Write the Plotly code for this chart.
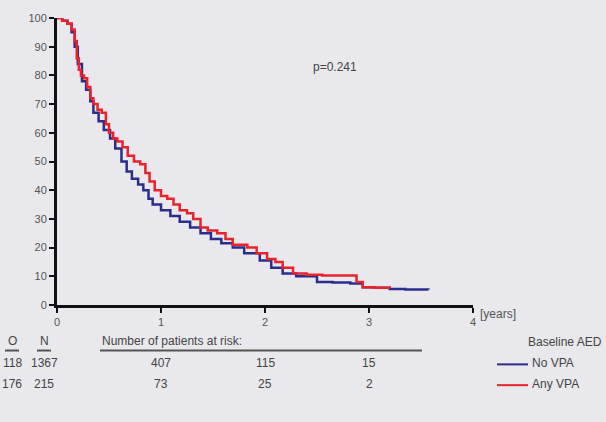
import plotly.graph_objects as go

# Kaplan-Meier style curves (percent, step after)
no_vpa_t = [0, 0.05, 0.10, 0.14, 0.17, 0.20, 0.24, 0.28, 0.32, 0.35, 0.40, 0.45, 0.51, 0.56,
            0.62, 0.67, 0.72, 0.78, 0.83, 0.88, 0.92, 1.00, 1.09, 1.18, 1.28, 1.38, 1.48,
            1.58, 1.69, 1.80, 1.95, 2.06, 2.17, 2.30, 2.50, 2.65, 2.82, 2.94, 3.05, 3.20,
            3.35, 3.57]
no_vpa_s = [100, 99, 98, 95, 90, 84, 78, 75, 71, 67, 64, 61, 58, 54.5, 50, 46.5, 44, 42,
            40, 37, 35, 33, 31, 29, 27, 25, 23, 21.5, 20, 18, 15.5, 13, 11, 10, 8, 7.8,
            7.5, 6.2, 6, 5.6, 5.4, 5.3]

any_vpa_t = [0, 0.05, 0.10, 0.14, 0.17, 0.19, 0.21, 0.23, 0.26, 0.29, 0.32, 0.35, 0.39,
             0.43, 0.47, 0.50, 0.54, 0.58, 0.63, 0.68, 0.74, 0.80, 0.85, 0.89, 0.94, 1.00,
             1.06, 1.12, 1.18, 1.25, 1.31, 1.38, 1.45, 1.54, 1.62, 1.69, 1.76, 1.83, 1.92,
             2.02, 2.10, 2.17, 2.27, 2.40, 2.55, 2.70, 2.82, 2.88, 2.94, 3.05, 3.20]
any_vpa_s = [100, 99, 98, 96, 92, 86, 82, 80, 79, 76, 72, 70, 68, 67, 63, 60, 58, 57, 55,
             52, 50, 49, 46, 43, 40, 38, 37, 35, 33, 32, 30, 27, 26, 25, 23, 21, 21, 20,
             18, 16, 15, 13, 11, 10.5, 10.3, 10.3, 10.3, 8, 6.2, 6, 5.8]

x_ticks = [0, 1, 2, 3, 4]
y_ticks = [0, 10, 20, 30, 40, 50, 60, 70, 80, 90, 100]

risk_years = [1, 2, 3]
risk_no_vpa = [407, 115, 15]
risk_any_vpa = [73, 25, 2]
obs_events = [118, 176]
n_patients = [1367, 215]
group_names = ["No VPA", "Any VPA"]
p_text = "p=0.241"

BLUE = "#2b2d8c"
RED = "#e8232b"
BG = "#e9e8ec"
TXT = "#555555"
DARK = "#444444"
FONT = "Liberation Sans Narrow, Liberation Sans, Arial"

fig = go.Figure()
fig.add_trace(go.Scatter(x=no_vpa_t, y=no_vpa_s, mode="lines", line_shape="hv",
                         line=dict(color=BLUE, width=2.5), name=group_names[0],
                         cliponaxis=False))
fig.add_trace(go.Scatter(x=any_vpa_t, y=any_vpa_s, mode="lines", line_shape="hv",
                         line=dict(color=RED, width=2.5), name=group_names[1],
                         cliponaxis=False))


def px_x(px):
    return (px - 57) / 416.0


def px_y(py):
    return (305 - py) / 290.0


def note(x, y, text, xref="paper", yref="paper", xanchor="center", size=12, color=DARK):
    return dict(x=x, y=y, xref=xref, yref=yref, text=text, showarrow=False,
                xanchor=xanchor, yanchor="middle", font=dict(size=size, color=color))


ann = []
ann.append(note(2.67, 83, p_text, xref="x", yref="y"))
ann.append(note(px_x(478), px_y(314), "[years]", xanchor="left", color=TXT))
# header
ann.append(note(px_x(12), px_y(341), "O"))
ann.append(note(px_x(44), px_y(341), "N"))
ann.append(note(px_x(100), px_y(341), "Number of patients at risk:", xanchor="left"))
ann.append(note(px_x(604), px_y(342), "Baseline AED", xanchor="right"))
rows_y = [364, 385]
for i, risk in enumerate([risk_no_vpa, risk_any_vpa]):
    ry = px_y(rows_y[i])
    ann.append(note(px_x(12), ry, str(obs_events[i])))
    ann.append(note(px_x(44), ry, str(n_patients[i])))
    for yr, v in zip(risk_years, risk):
        ann.append(note(yr, ry, str(v), xref="x"))
    ann.append(note(px_x(530), ry, group_names[i], xanchor="left"))

shapes = []
# underlines
for x0, x1 in [(5, 19), (37, 51), (100, 422)]:
    shapes.append(dict(type="line", xref="paper", yref="paper", x0=px_x(x0), x1=px_x(x1),
                       y0=px_y(351), y1=px_y(351), line=dict(color="#555555", width=2)))
# legend samples
for i, c in enumerate([BLUE, RED]):
    shapes.append(dict(type="line", xref="paper", yref="paper", x0=px_x(497), x1=px_x(528),
                       y0=px_y(rows_y[i] + 1), y1=px_y(rows_y[i] + 1),
                       line=dict(color=c, width=2)))

fig.update_layout(
    width=606, height=422,
    margin=dict(l=57, r=133, t=15, b=117),
    paper_bgcolor=BG, plot_bgcolor=BG,
    showlegend=False,
    font=dict(family=FONT, size=11, color=TXT),
    annotations=ann, shapes=shapes,
    xaxis=dict(range=[0, 4], tickvals=x_ticks, showgrid=False, zeroline=False,
               showline=True, linecolor="#111111", linewidth=3, ticks="outside",
               ticklen=5, tickwidth=2, tickcolor="#111111",
               tickfont=dict(size=11, color=TXT)),
    yaxis=dict(range=[0, 100], tickvals=y_ticks, showgrid=False, zeroline=False,
               showline=True, linecolor="#111111", linewidth=3, ticks="outside",
               ticklen=5, tickwidth=2, tickcolor="#111111",
               tickfont=dict(size=11, color=TXT)),
)

fig.write_html("out.html")
